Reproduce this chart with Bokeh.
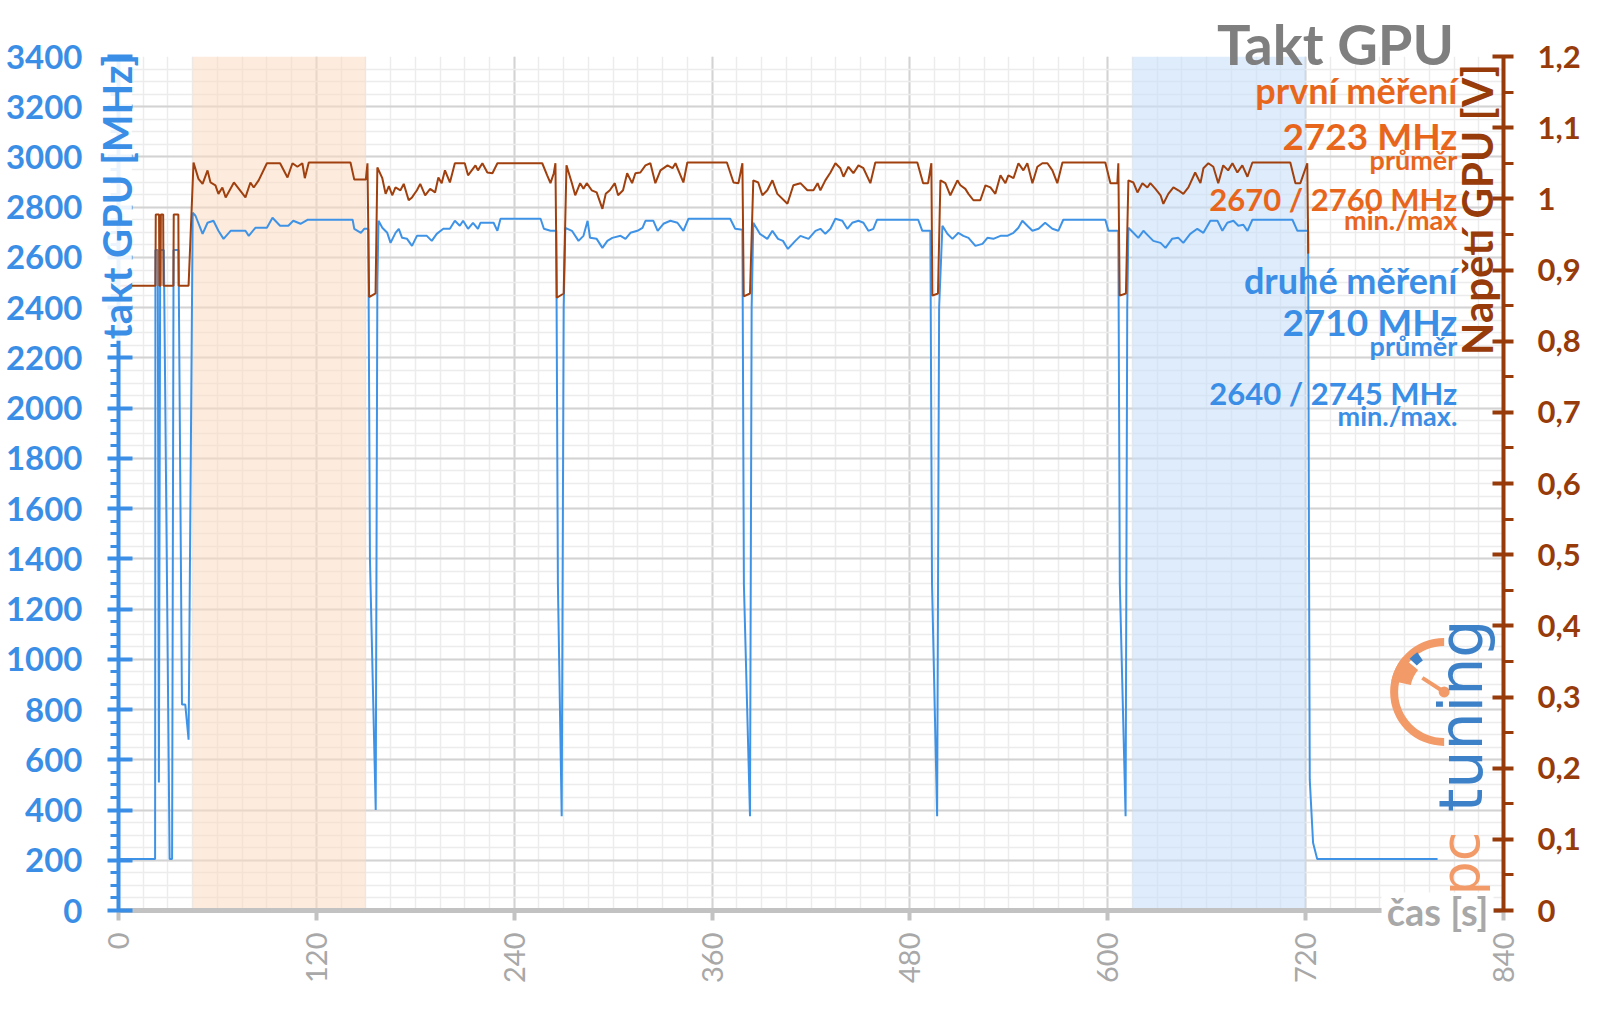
import numpy as np
from bokeh.plotting import figure
from bokeh.models import (Range1d, LinearAxis, SingleIntervalTicker, FixedTicker,
                          BoxAnnotation, CustomJSTickFormatter)
from bokeh.core.properties import value
from bokeh.embed import file_html
from bokeh.resources import INLINE

# ---------------- data ----------------
t_clock = [0, 22.2, 22.4, 23.8, 24.5, 25.3, 27.5, 31, 32.5, 33.4,
           36.4, 38.5, 40.5, 42.5, 45, 46.7, 51, 54, 57.6, 60.6,
           63.7, 68, 77, 79, 83, 90, 93.4, 98, 103, 106,
           110.4, 114.6, 142, 143, 147, 149, 151.5, 152.5, 156, 157,
           157.7, 160, 163, 165, 168, 170, 172, 175, 178, 181,
           187, 190, 193, 197, 201, 204, 207, 209, 212, 215,
           218, 219.5, 227.5, 229.8, 231.7, 256, 258, 262, 265.5, 266.5,
           268.8, 270, 271, 275, 279, 282, 284.5, 286, 290, 293.5,
           296.5, 299.5, 304.5, 307.5, 310.5, 314.7, 317.8, 319.6, 324.4, 327,
           330.5, 334.7, 339, 342.6, 345.7, 371, 374, 378.4, 379.3, 383,
           384, 385, 389, 393.5, 396.6, 400, 403, 406, 410.5, 413.6,
           418.5, 422.7, 425.7, 428.7, 431.8, 434.8, 439, 442, 445, 448.8,
           451.8, 454.8, 457.8, 460, 485, 487.5, 492.4, 493.4, 496.5, 497.7,
           499.7, 502.7, 505.8, 509.4, 512.4, 515.5, 519.7, 524, 527, 530.6,
           534.9, 539, 542.8, 545.8, 548.2, 551.2, 554.3, 558, 562, 566.4,
           570, 573, 598.5, 600.4, 606.4, 607.3, 610.8, 611.8, 612.5, 615.5,
           618.5, 621.6, 624.6, 627.6, 632, 635, 639, 642.8, 645.8, 650,
           654.3, 658, 662.2, 666.5, 669.5, 672.5, 676.2, 679.2, 682.2, 684.7,
           687.7, 712, 715, 721.5, 722, 722.5, 724.5, 727, 800]
clock_mhz = [205, 205, 2630, 2630, 510, 2630, 2630, 205, 205, 2630,
             2630, 820, 820, 680, 2778, 2766, 2694, 2738, 2746, 2706,
             2674, 2706, 2706, 2686, 2718, 2718, 2758, 2726, 2726, 2746,
             2734, 2750, 2750, 2714, 2698, 2714, 2714, 1400, 400, 2500,
             2746, 2718, 2698, 2658, 2698, 2714, 2678, 2674, 2646, 2686,
             2686, 2666, 2694, 2714, 2714, 2746, 2726, 2746, 2714, 2738,
             2714, 2738, 2738, 2706, 2754, 2754, 2714, 2706, 2706, 1300,
             375, 2400, 2718, 2706, 2666, 2686, 2746, 2678, 2674, 2638,
             2666, 2678, 2686, 2674, 2698, 2706, 2718, 2746, 2746, 2706,
             2734, 2746, 2738, 2706, 2754, 2754, 2714, 2710, 1300, 375,
             2400, 2738, 2694, 2674, 2706, 2674, 2666, 2634, 2666, 2686,
             2674, 2706, 2714, 2694, 2714, 2754, 2746, 2714, 2738, 2746,
             2738, 2706, 2714, 2750, 2750, 2706, 2706, 1300, 375, 2400,
             2726, 2694, 2674, 2698, 2686, 2678, 2646, 2654, 2678, 2674,
             2686, 2686, 2698, 2718, 2746, 2726, 2706, 2714, 2738, 2714,
             2706, 2750, 2750, 2706, 2706, 1300, 375, 2400, 2718, 2698,
             2678, 2706, 2686, 2666, 2658, 2638, 2674, 2678, 2658, 2694,
             2714, 2698, 2746, 2746, 2706, 2738, 2746, 2726, 2730, 2706,
             2750, 2750, 2706, 2706, 1500, 520, 270, 205, 205]

t_volt = [0, 22.4, 22.6, 24.6, 24.8, 25.5, 25.7, 27.1, 27.3, 33.3,
          33.5, 36.3, 36.5, 42.5, 45.5, 48.5, 51, 54, 55.8, 58.8,
          60.6, 63, 65, 70, 73, 77, 80, 82, 85, 90,
          98, 102.5, 105.5, 108.5, 111.5, 113, 115.4, 140.7, 143, 150,
          151, 152, 155.9, 157, 160, 162, 164, 166, 168, 171,
          173, 176, 178, 181, 183, 186, 189, 192, 194, 196,
          198, 201, 204, 210, 212, 216.5, 218, 220.7, 223.7, 226.8,
          229.8, 257, 260, 262, 264, 265, 265.8, 270, 271.7, 275,
          277, 280, 282, 284, 287, 290, 293.5, 295.5, 298, 301,
          303, 306, 308.5, 311.5, 313.5, 316.5, 319.6, 322.6, 325.6, 328.7,
          333, 336, 337.8, 342.6, 345, 369, 373, 376, 378.4, 379.2,
          383, 385, 388, 390.5, 393.5, 396.6, 399.6, 405.7, 409.3, 413.6,
          417.8, 421.5, 424, 425.7, 428.7, 431.8, 434.8, 437.8, 439.7, 442.7,
          445.7, 448.8, 451.8, 456, 459, 484.5, 488, 491, 493, 493.6,
          497, 498.5, 501.5, 504.5, 508.8, 510.6, 513.6, 515.5, 518.5, 522.7,
          525.8, 528.8, 531.8, 534.9, 537.9, 539.7, 542.8, 545.8, 548.8, 551.2,
          554.3, 557.3, 560.3, 563.4, 566.4, 569.4, 572.5, 598.5, 601.6, 605.8,
          606.4, 607.2, 611, 612.5, 615.5, 618, 621, 624, 625.8, 628.9,
          632, 633.7, 636.7, 639.8, 642.8, 645.8, 648.9, 653, 656.2, 658,
          661, 664, 667, 670, 673, 675.6, 678.6, 681.6, 684.7, 687.7,
          710.7, 713.8, 716.8, 721, 721.6]
volt = [0.878, 0.878, 0.978, 0.978, 0.878, 0.878, 0.978, 0.978, 0.878, 0.878,
        0.978, 0.978, 0.878, 0.878, 1.051, 1.028, 1.021, 1.040, 1.023, 1.019,
        1.007, 1.016, 1.002, 1.023, 1.014, 1.002, 1.023, 1.016, 1.026, 1.050,
        1.050, 1.030, 1.050, 1.045, 1.050, 1.029, 1.051, 1.051, 1.027, 1.027,
        1.050, 0.862, 0.867, 1.044, 1.029, 1.007, 1.018, 1.005, 1.016, 1.012,
        1.021, 0.998, 1.002, 1.012, 1.021, 1.005, 1.014, 1.009, 1.030, 1.022,
        1.040, 1.023, 1.050, 1.050, 1.033, 1.047, 1.040, 1.050, 1.037, 1.036,
        1.050, 1.050, 1.033, 1.022, 1.036, 1.050, 0.861, 0.867, 1.047, 1.022,
        1.005, 1.022, 1.014, 1.022, 1.012, 1.009, 0.986, 1.007, 1.012, 1.022,
        1.005, 1.012, 1.036, 1.022, 1.036, 1.037, 1.047, 1.050, 1.022, 1.040,
        1.047, 1.043, 1.050, 1.023, 1.051, 1.051, 1.023, 1.022, 1.050, 0.863,
        0.867, 1.026, 1.023, 1.005, 1.012, 1.026, 1.007, 0.993, 1.019, 1.022,
        1.012, 1.012, 1.022, 1.012, 1.026, 1.037, 1.050, 1.043, 1.031, 1.045,
        1.036, 1.047, 1.043, 1.022, 1.051, 1.051, 1.022, 1.022, 1.050, 0.864,
        0.867, 1.026, 1.022, 1.005, 1.026, 1.019, 1.014, 1.007, 0.998, 0.998,
        1.019, 1.016, 1.007, 1.033, 1.022, 1.033, 1.029, 1.050, 1.040, 1.050,
        1.022, 1.045, 1.050, 1.050, 1.040, 1.022, 1.051, 1.051, 1.022, 1.022,
        1.050, 0.864, 0.867, 1.026, 1.023, 1.009, 1.022, 1.016, 1.022, 1.014,
        1.005, 0.993, 1.007, 1.016, 1.012, 1.007, 1.016, 1.037, 1.022, 1.043,
        1.050, 1.045, 1.022, 1.047, 1.040, 1.050, 1.037, 1.047, 1.031, 1.051,
        1.051, 1.022, 1.022, 1.050, 0.923]

orange_span = [45, 150]
blue_span = [615, 720]

first_avg, first_min, first_max = 2723, 2670, 2760
second_avg, second_min, second_max = 2710, 2640, 2745

volt_ticks = [0, 0.1, 0.2, 0.3, 0.4, 0.5, 0.6, 0.7, 0.8, 0.9, 1.0, 1.1, 1.2]
volt_minor = [0.05, 0.15, 0.25, 0.35, 0.45, 0.55, 0.65, 0.75, 0.85, 0.95, 1.05, 1.15]

title_text = "Takt GPU"
first_name = "první měření"
second_name = "druhé měření"
avg_word = "průměr"
y_left_title = "takt GPU [MHz]"
y_right_title = "Napětí GPU [V]"
x_title = "čas [s]"

# ---------------- style ----------------
BLUE_AX = "#3a8ee6"
BLUE_LINE = "#3f93e6"
BROWN_AX = "#973b0a"
BROWN_LINE = "#a0400e"
ORANGE_TXT = "#e8661c"
GRAY_TITLE = "#7f7f7f"
GRAY_AX = "#a8a8a8"
LOGO_OR = "#f29a68"
LOGO_BL = "#3d82c8"
FONT = "Lato"

p = figure(width=1600, height=1009, output_backend="svg", toolbar_location=None,
           x_range=Range1d(0, 840), y_range=Range1d(0, 3400),
           min_border_left=118, min_border_right=97, min_border_top=56,
           min_border_bottom=99)
p.outline_line_color = None
p.background_fill_color = "white"
p.border_fill_color = "white"
p.extra_y_ranges = {"volt": Range1d(0, 1.2)}

xt = SingleIntervalTicker(interval=120, num_minor_ticks=8)
yt = SingleIntervalTicker(interval=200, num_minor_ticks=4)

# grids
p.xgrid.ticker = xt
p.ygrid.ticker = yt
for g in (p.xgrid[0], p.ygrid[0]):
    g.grid_line_color = "#d3d3d3"
    g.grid_line_width = 2
    g.minor_grid_line_color = "#ececec"
    g.minor_grid_line_width = 1.5

# shaded regions
p.add_layout(BoxAnnotation(left=orange_span[0], right=orange_span[1],
                           fill_color="#fbdcc3", fill_alpha=0.55,
                           line_color=None, level="underlay"))
p.add_layout(BoxAnnotation(left=blue_span[0], right=blue_span[1],
                           fill_color="#c9e0f8", fill_alpha=0.6,
                           line_color=None, level="underlay"))

# left axis
ax = p.yaxis[0]
ax.ticker = yt
ax.axis_line_color = BLUE_AX
ax.axis_line_width = 4
ax.major_tick_line_color = BLUE_AX
ax.major_tick_line_width = 4
ax.major_tick_in = 14
ax.major_tick_out = 11
ax.minor_tick_line_color = BLUE_AX
ax.minor_tick_line_width = 3
ax.minor_tick_in = 0
ax.minor_tick_out = 8
ax.major_label_text_color = BLUE_AX
ax.major_label_text_font = FONT
ax.major_label_text_font_size = "33px"
ax.major_label_text_font_style = "bold"
ax.major_label_standoff = 25

# bottom axis
bx = p.xaxis[0]
bx.ticker = xt
bx.axis_line_color = "#c2c2c2"
bx.axis_line_width = 5
bx.major_tick_line_color = "#c2c2c2"
bx.major_tick_line_width = 4
bx.major_tick_in = 0
bx.major_tick_out = 10
bx.minor_tick_line_color = None
bx.major_label_orientation = np.pi / 2
bx.major_label_text_color = GRAY_AX
bx.major_label_text_font = FONT
bx.major_label_text_font_size = "29px"
bx.major_label_standoff = 12

# right axis
ry = LinearAxis(y_range_name="volt",
                ticker=FixedTicker(ticks=volt_ticks, minor_ticks=volt_minor),
                formatter=CustomJSTickFormatter(code="const v = Math.round(tick*10)/10; return v.toString().replace('.', ',');"))
ry.axis_line_color = BROWN_AX
ry.axis_line_width = 4
ry.major_tick_line_color = BROWN_AX
ry.major_tick_line_width = 4
ry.major_tick_in = 11
ry.major_tick_out = 10
ry.minor_tick_line_color = BROWN_AX
ry.minor_tick_line_width = 3
ry.minor_tick_in = 0
ry.minor_tick_out = 10
ry.major_label_text_color = BROWN_AX
ry.major_label_text_font = FONT
ry.major_label_text_font_size = "31px"
ry.major_label_text_font_style = "bold"
ry.major_label_standoff = 24
p.add_layout(ry, "right")

# data lines
p.line(t_clock, clock_mhz, line_color=BLUE_LINE, line_width=2)
p.line(t_volt, volt, line_color=BROWN_LINE, line_width=2, y_range_name="volt")


def txt(x, y, text, size, color, align="right", bold=True, angle=0.0,
        baseline="alphabetic", font=FONT):
    p.text(x=[x], y=[y], text=[text], text_font=value(font),
           text_font_size=value(f"{size}px"),
           text_font_style="bold" if bold else "normal",
           text_color=color, text_align=align, text_baseline=baseline,
           angle=angle, level="overlay")


def whitebox(x, y, w, h, alpha=1.0):
    p.rect(x=[x], y=[y], width=w, height=h, width_units="screen",
           height_units="screen", fill_color="white", fill_alpha=alpha,
           line_color=None, level="overlay")


# title and summary texts
XR = 812
txt(810, 3450, title_text, 56, GRAY_TITLE)
txt(XR, 3267, first_name, 36, ORANGE_TXT)
txt(XR, 3084, f"{first_avg} MHz", 37, ORANGE_TXT)
txt(XR, 2989, avg_word, 27, ORANGE_TXT)
txt(XR, 2833, f"{first_min} / {first_max} MHz", 31, ORANGE_TXT)
txt(XR, 2750, "min./max", 27, ORANGE_TXT)
txt(XR, 2511, second_name, 36, BLUE_AX)
txt(XR, 2344, f"{second_avg} MHz", 37, BLUE_AX)
txt(XR, 2248, avg_word, 27, BLUE_AX)
txt(XR, 2061, f"{second_min} / {second_max} MHz", 31, BLUE_AX)
txt(XR, 1970, "min./max.", 27, BLUE_AX)

# axis titles
whitebox(-1, 2830, 30, 282, alpha=0.9)
txt(-1, 3410, y_left_title, 40, BLUE_AX, align="right", angle=np.pi / 2,
    baseline="middle")
txt(824, 3370, y_right_title, 42, BROWN_AX, align="right", angle=np.pi / 2,
    baseline="middle")
whitebox(800, 0, 112, 36)
txt(800, 0, x_title, 38, GRAY_AX, align="center", baseline="middle")

# pctuning logo
txt(814, 60, "pc", 54, LOGO_OR, align="left", bold=False, angle=np.pi / 2,
    font="DejaVu Sans")
txt(814, 392, "tuning", 60, LOGO_BL, align="left", bold=False, angle=np.pi / 2,
    font="DejaVu Sans")
cx, cy = 804, 870
ru = dict(inner_radius_units="screen", outer_radius_units="screen")
p.annular_wedge(x=[cx], y=[cy], inner_radius=46, outer_radius=54,
                start_angle=np.pi / 2, end_angle=1.5 * np.pi,
                fill_color=LOGO_OR, line_color=None, **ru)
p.annular_wedge(x=[cx], y=[cy], inner_radius=34, outer_radius=54,
                start_angle=np.radians(140), end_angle=np.radians(168),
                fill_color=LOGO_OR, line_color=None, **ru)
p.annular_wedge(x=[cx], y=[cy], inner_radius=38, outer_radius=48,
                start_angle=np.radians(124), end_angle=np.radians(136),
                fill_color=LOGO_BL, line_color=None, **ru)
p.ray(x=[cx], y=[cy], length=26, angle=np.radians(147), length_units="screen",
      line_color=LOGO_OR, line_width=4)
p.scatter(x=[cx], y=[cy], size=11, fill_color=LOGO_OR, line_color=None)

open("out.html", "w").write(file_html(p, INLINE))
